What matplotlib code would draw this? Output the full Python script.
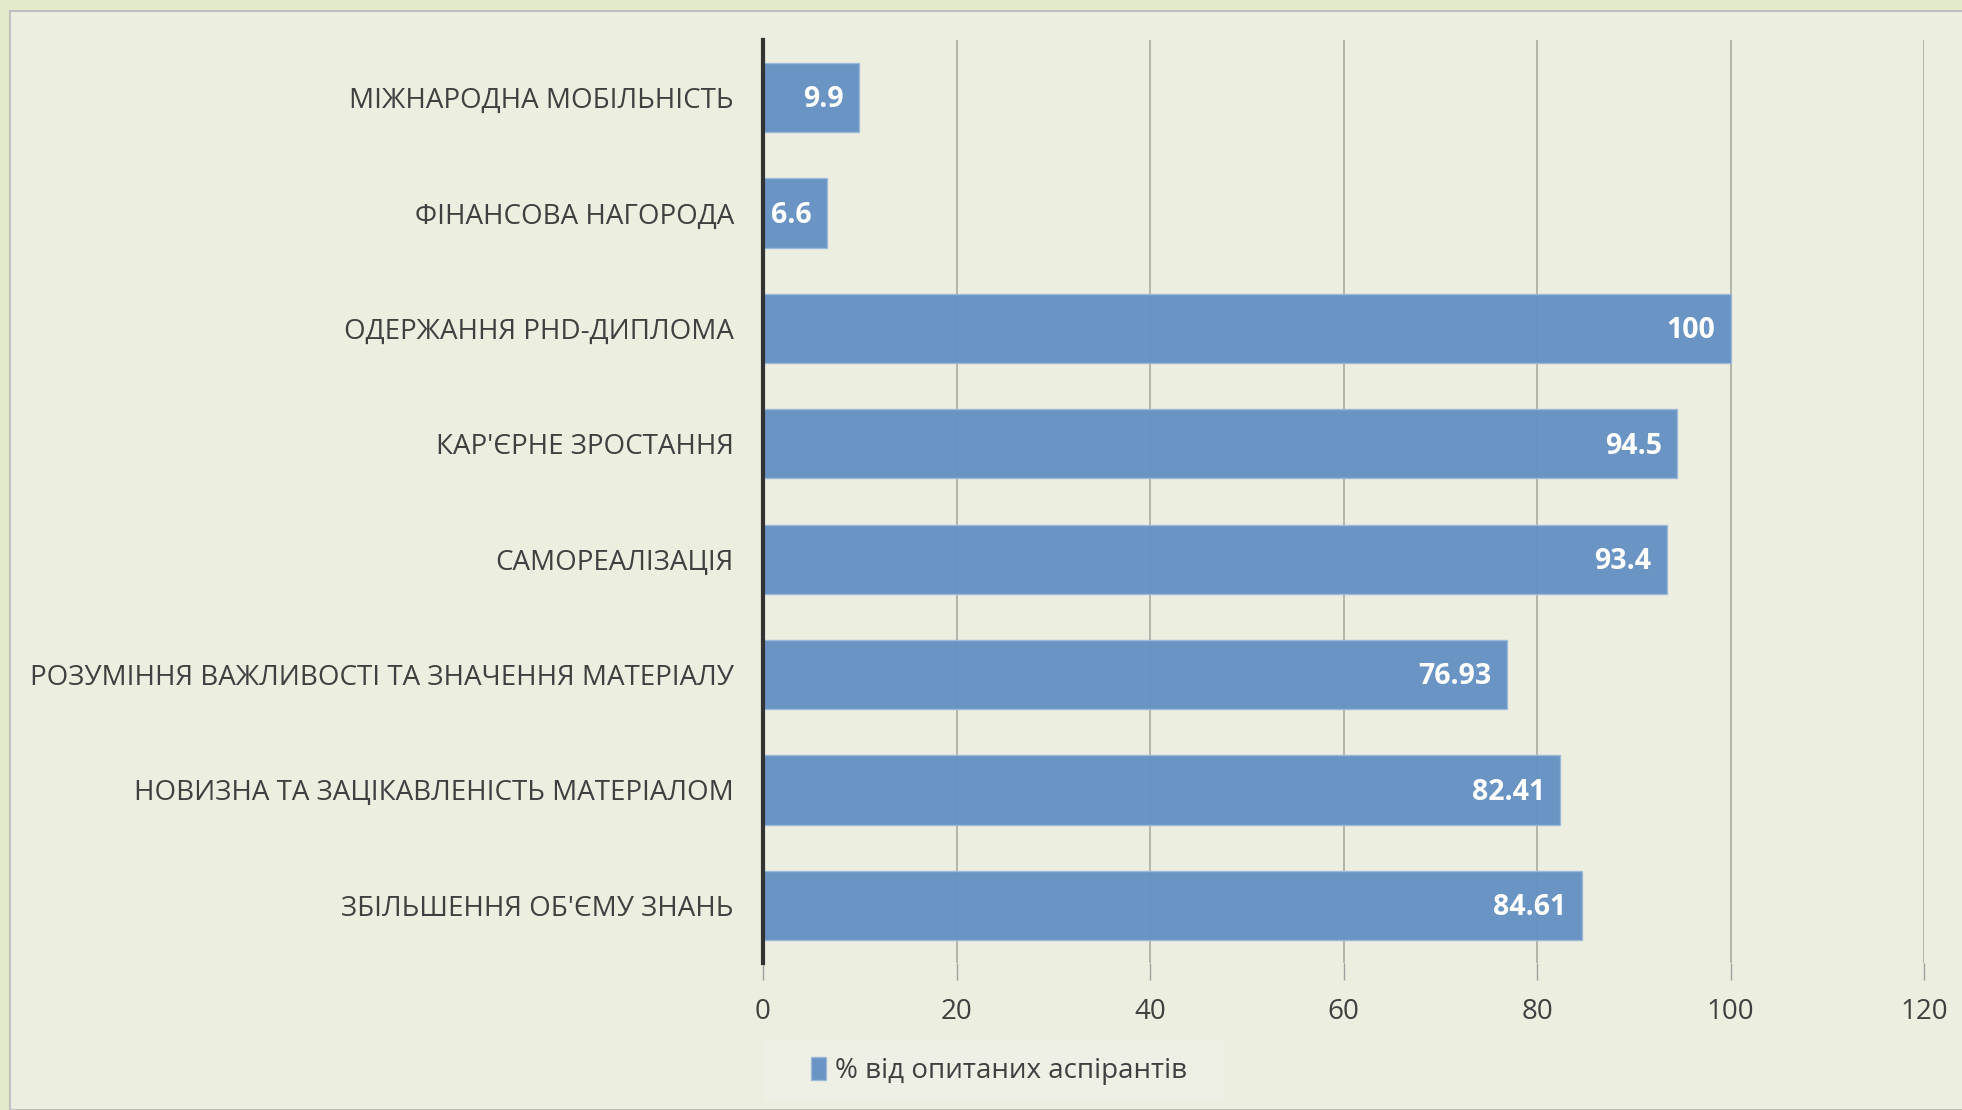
import matplotlib.pyplot as plt
from matplotlib.patches import Rectangle

plt.rcParams['font.family'] = ['Open Sans', 'DejaVu Sans']

# Дані з діаграми (зверху вниз)
категорії = [
    'МІЖНАРОДНА МОБІЛЬНІСТЬ',
    'ФІНАНСОВА НАГОРОДА',
    'ОДЕРЖАННЯ PHD-ДИПЛОМА',
    "КАР'ЄРНЕ ЗРОСТАННЯ",
    'САМОРЕАЛІЗАЦІЯ',
    'РОЗУМІННЯ ВАЖЛИВОСТІ ТА ЗНАЧЕННЯ МАТЕРІАЛУ',
    'НОВИЗНА ТА ЗАЦІКАВЛЕНІСТЬ МАТЕРІАЛОМ',
    "ЗБІЛЬШЕННЯ ОБ'ЄМУ ЗНАНЬ",
]
значення = [9.9, 6.6, 100, 94.5, 93.4, 76.93, 82.41, 84.61]
підписи = ['9.9', '6.6', '100', '94.5', '93.4', '76.93', '82.41', '84.61']
серія = '% від опитаних аспірантів'
тики_x = [0, 20, 40, 60, 80, 100, 120]

колір_смуг = '#6591C3'
колір_тексту = '#404040'
W, H = 1962, 1110

fig = plt.figure(figsize=(W / 100, H / 100), dpi=100, facecolor='#E3EACB')
# рамка слайда
fig.patches.append(Rectangle((10 / W, 0), 1, 1 - 11 / H, transform=fig.transFigure,
                             facecolor='#ECEFDF', edgecolor='#C0C0C0', linewidth=1.5, zorder=-5))
# фон легенди
fig.patches.append(Rectangle((763 / W, 1 - 1101 / H), (1224 - 763) / W, 60 / H,
                             transform=fig.transFigure, facecolor='#EEF0E6',
                             edgecolor='none', zorder=-4))

ax = fig.add_axes([763 / W, 1 - 963 / H, (1924 - 763) / W, (963 - 40) / H])
ax.set_facecolor('none')
ax.set_zorder(2)

y = range(len(категорії))
смуги = ax.barh(y, значення, height=0.6, color=колір_смуг, edgecolor='#9DB8DA',
                linewidth=1, alpha=0.97, zorder=2, label=серія)
ax.set_ylim(len(категорії) - 0.5, -0.5)
ax.set_xlim(0, 120)
ax.set_xticks(тики_x)
ax.set_yticks(list(y))
ax.set_yticklabels(категорії, fontsize=20, color=колір_тексту)
ax.tick_params(axis='y', length=0, pad=21)
ax.tick_params(axis='x', length=12, width=1, color='#A0A0A0', labelsize=20,
               labelcolor=колір_тексту, pad=13)

ax.grid(axis='x', color='#A8AB9E', linewidth=1.2, zorder=1)
for s in ['top', 'right', 'bottom']:
    ax.spines[s].set_visible(False)
ax.spines['left'].set_color('#333333')
ax.spines['left'].set_linewidth(3)
ax.spines['left'].set_zorder(3)

for смуга, текст in zip(смуги, підписи):
    ax.text(смуга.get_width() - 1.6, смуга.get_y() + смуга.get_height() / 2 + 0.02, текст,
            ha='right', va='center', color='white', fontsize=20.5, fontweight='bold', zorder=4)

leg = fig.legend(handles=[смуги], labels=[серія], loc='center left',
                 bbox_to_anchor=(811 / W, 1 - 1071 / H), fontsize=20, frameon=False,
                 handlelength=0.55, handleheight=0.9, handletextpad=0.3,
                 borderpad=0, borderaxespad=0)
for t in leg.get_texts():
    t.set_color(колір_тексту)

fig.savefig('out.png', dpi=100, facecolor=fig.get_facecolor())
